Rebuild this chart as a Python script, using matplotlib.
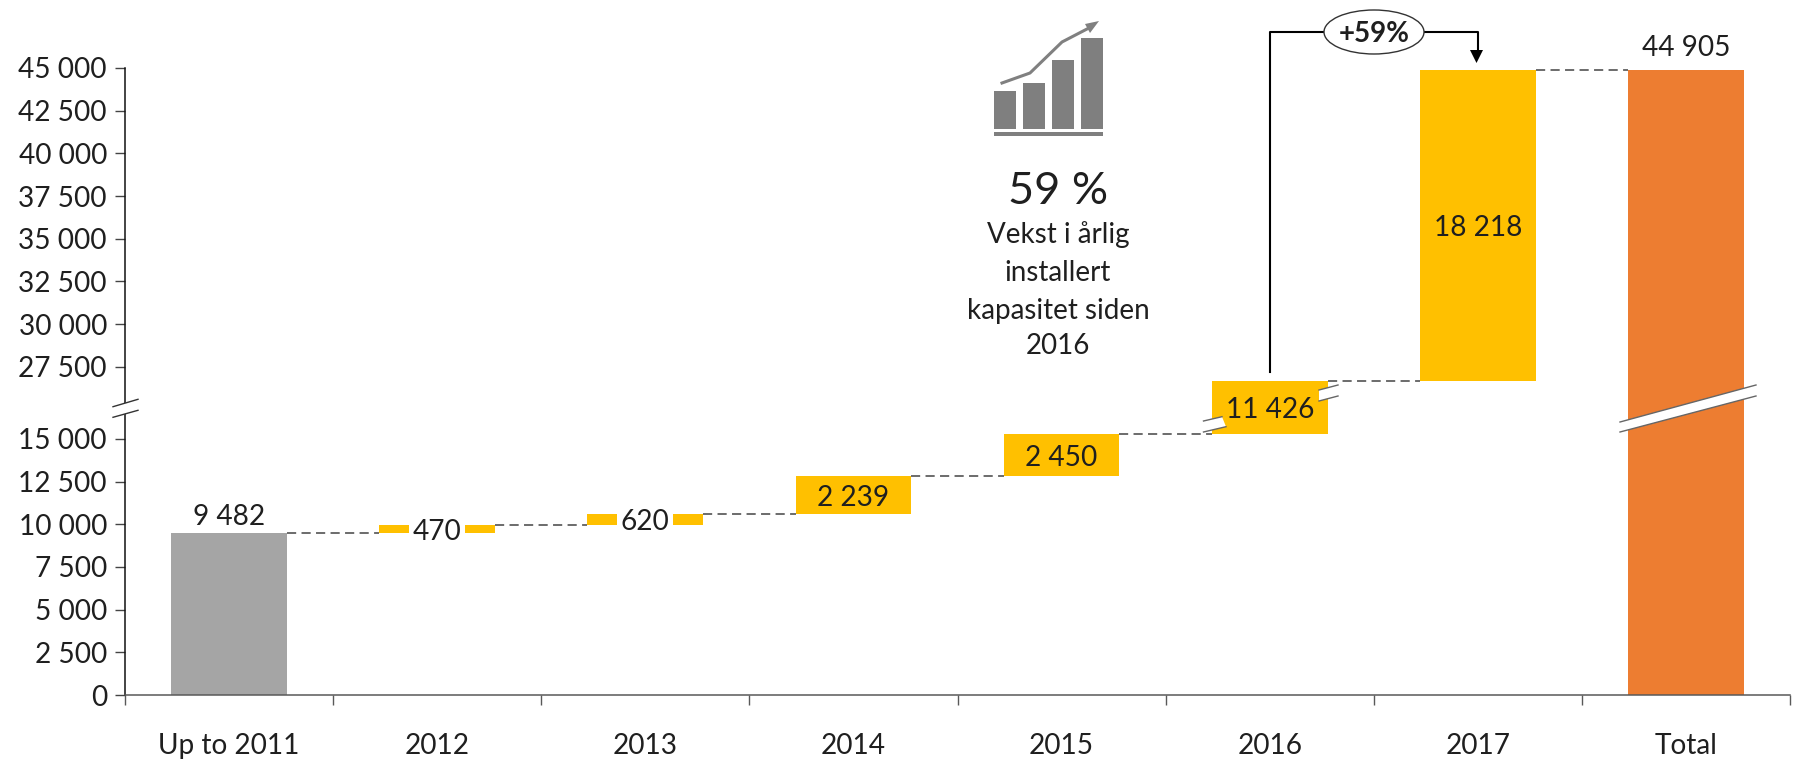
import numpy as np
import matplotlib
matplotlib.use("Agg")
import matplotlib.pyplot as plt
from matplotlib.patches import Rectangle, Polygon, Ellipse
from matplotlib.lines import Line2D
from matplotlib.transforms import Affine2D, blended_transform_factory

plt.rcParams['font.family'] = ['Lato', 'DejaVu Sans']

categories = ["Up to 2011", "2012", "2013", "2014", "2015", "2016", "2017", "Total"]
increments = [9482, 470, 620, 2239, 2450, 11426, 18218]
total_value = 44905
y_ticks = [0, 2500, 5000, 7500, 10000, 12500, 15000,
           27500, 30000, 32500, 35000, 37500, 40000, 42500, 45000]
growth_lines = ["Vekst i årlig", "installert", "kapasitet siden", "2016"]
growth_big = "59 %"
growth_tag = "+59%"

GREY, YELLOW, ORANGE = "#A5A5A5", "#FFC000", "#ED7D31"
TXT = "#1f1f1f"
FS = 20.2

W, H = 1794, 761
fig = plt.figure(figsize=(W / 100, H / 100), dpi=100, facecolor="white")
L, R, T, B = 125, 1790, 68, 695
ax = fig.add_axes([L / W, 1 - B / H, (R - L) / W, (B - T) / H])

# broken value axis
brk_x = [-1e6, 16820, 25110, 1e6]
brk_y = [-1e6, 16820, 16821, 1e6 - 8289]
fwd = lambda v: np.interp(v, brk_x, brk_y)
inv = lambda v: np.interp(v, brk_y, brk_x)
ax.set_yscale("function", functions=(fwd, inv))
ax.set_ylim(0, 45000)
ax.set_xlim(0, 8)

px = Affine2D().scale(1, -1).translate(0, H)   # pixel coordinates, from the top
xpx = blended_transform_factory(ax.transData, px)

fmt = lambda v: f"{v:,}".replace(",", " ")
bar_w = 0.556
x = np.arange(len(categories)) + 0.5

tops = np.cumsum(increments)
bottoms = np.concatenate([[0], tops[:-1]])
colors = [GREY] + [YELLOW] * (len(increments) - 1)
ax.bar(x[:-1], increments, bottom=bottoms, width=bar_w, color=colors, zorder=2)
ax.bar(x[-1], total_value, width=bar_w, color=ORANGE, zorder=2)

# connectors
for i, t in enumerate(tops):
    ax.plot([x[i] + bar_w / 2, x[i + 1] - bar_w / 2], [t, t], color="#444444",
            lw=1.1, dashes=(6, 3.5), zorder=1, clip_on=False)

# value labels
for i, (b, t, v) in enumerate(zip(bottoms, tops, increments)):
    if i == 0:
        ax.annotate(fmt(v), (x[i], t), xytext=(0, 2), textcoords="offset points",
                    ha="center", va="bottom", fontsize=FS, color=TXT)
        continue
    ym = float(inv((fwd(b) + fwd(t)) / 2))
    kw = {}
    if i in (1, 2):
        kw["bbox"] = dict(facecolor="white", edgecolor="none", pad=2.6)
    ax.text(x[i], ym, fmt(v), ha="center", va="center_baseline", fontsize=FS,
            color=TXT, zorder=6, **kw)
ax.annotate(fmt(total_value), (x[-1], total_value), xytext=(0, 6.5),
            textcoords="offset points", ha="center", va="bottom",
            fontsize=FS, color=TXT, annotation_clip=False)

# axes styling
for s in ("top", "right"):
    ax.spines[s].set_visible(False)
ax.spines["left"].set_color("#111111")
ax.spines["left"].set_linewidth(1.1)
ax.spines["bottom"].set_color("#595959")
ax.spines["bottom"].set_linewidth(1.1)
ax.set_yticks(y_ticks)
ax.set_yticklabels([fmt(v) for v in y_ticks])
ax.minorticks_off()
ax.set_xticks(np.arange(len(categories) + 1))
ax.set_xticklabels([])
ax.tick_params(axis="y", length=7, width=1, color="#444444", labelsize=FS,
               labelcolor=TXT, pad=6)
ax.tick_params(axis="x", length=7, width=1, color="#595959")
for xc, c in zip(x, categories):
    ax.text(xc, 746, c, transform=xpx, ha="center", va="center",
            fontsize=FS, color=TXT, clip_on=False)


def slash(p1a, p1b, p2b, p2a, zorder=5, ln="#666666", lw=1.0):
    ax.add_artist(Polygon([p1a, p1b, p2b, p2a], closed=True, facecolor="white",
                          edgecolor="none", transform=px, zorder=zorder, clip_on=False))
    for a, b_ in ((p1a, p1b), (p2a, p2b)):
        ax.add_artist(Line2D([a[0], b_[0]], [a[1], b_[1]], color=ln, lw=lw,
                             transform=px, zorder=zorder + 0.1, clip_on=False))


# axis break and bar breaks
slash((113, 406.7), (138, 399.3), (138, 410.3), (113, 417.3), ln="#333333")
slash((1620, 422), (1756, 385), (1756, 396), (1620, 432))
slash((1203.5, 421), (1222, 416.7), (1226, 426.7), (1203.5, 432))
slash((1319, 390), (1338, 385), (1338, 396), (1319, 401))

# growth bracket
bx0, bx1 = x[5], x[6]
ytop = 32
ax.add_artist(Line2D([bx0, bx0, bx1, bx1], [372, ytop, ytop, 52], color="black",
                     lw=1.5, transform=xpx, zorder=7, clip_on=False))
ax.add_artist(Polygon([[1470, 50], [1483, 50], [1476.5, 63]], closed=True, facecolor="black",
                      edgecolor="none", transform=px, zorder=7, clip_on=False))
ax.add_artist(Ellipse((1374, 32), 100, 44, facecolor="white", edgecolor="#333333", lw=1,
                      transform=px, zorder=8, clip_on=False))
ax.text(1374, 31, growth_tag, transform=px, ha="center", va="center_baseline",
        fontsize=20, fontweight="bold", color=TXT, zorder=9, clip_on=False)

# icon
ICON = "#7F7F7F"
for x0, x1, yt in ((994, 1016, 91), (1023, 1045, 83), (1052, 1074, 60), (1081, 1103, 38)):
    ax.add_artist(Rectangle((x0, yt), x1 - x0, 129 - yt, facecolor=ICON, edgecolor="none",
                            transform=px, clip_on=False))
ax.add_artist(Rectangle((994, 131.5), 109, 4, facecolor=ICON, edgecolor="none",
                        transform=px, clip_on=False))
ax.add_artist(Line2D([1002, 1030, 1062, 1087], [83, 73, 42, 29], color="#808080", lw=2.2,
                     transform=px, clip_on=False))
ax.add_artist(Polygon([[1099, 21], [1085, 24], [1090, 33]], closed=True, facecolor="#808080",
                      edgecolor="none", transform=px, clip_on=False))

# growth text
ax.text(1058, 191, growth_big, transform=px, ha="center", va="center",
        fontsize=32.5, color=TXT, clip_on=False)
for yy, s in zip((235, 273, 311, 346), growth_lines):
    ax.text(1058, yy, s, transform=px, ha="center", va="center", fontsize=20,
            color=TXT, clip_on=False)

fig.savefig("out.png", dpi=100, facecolor="white")
